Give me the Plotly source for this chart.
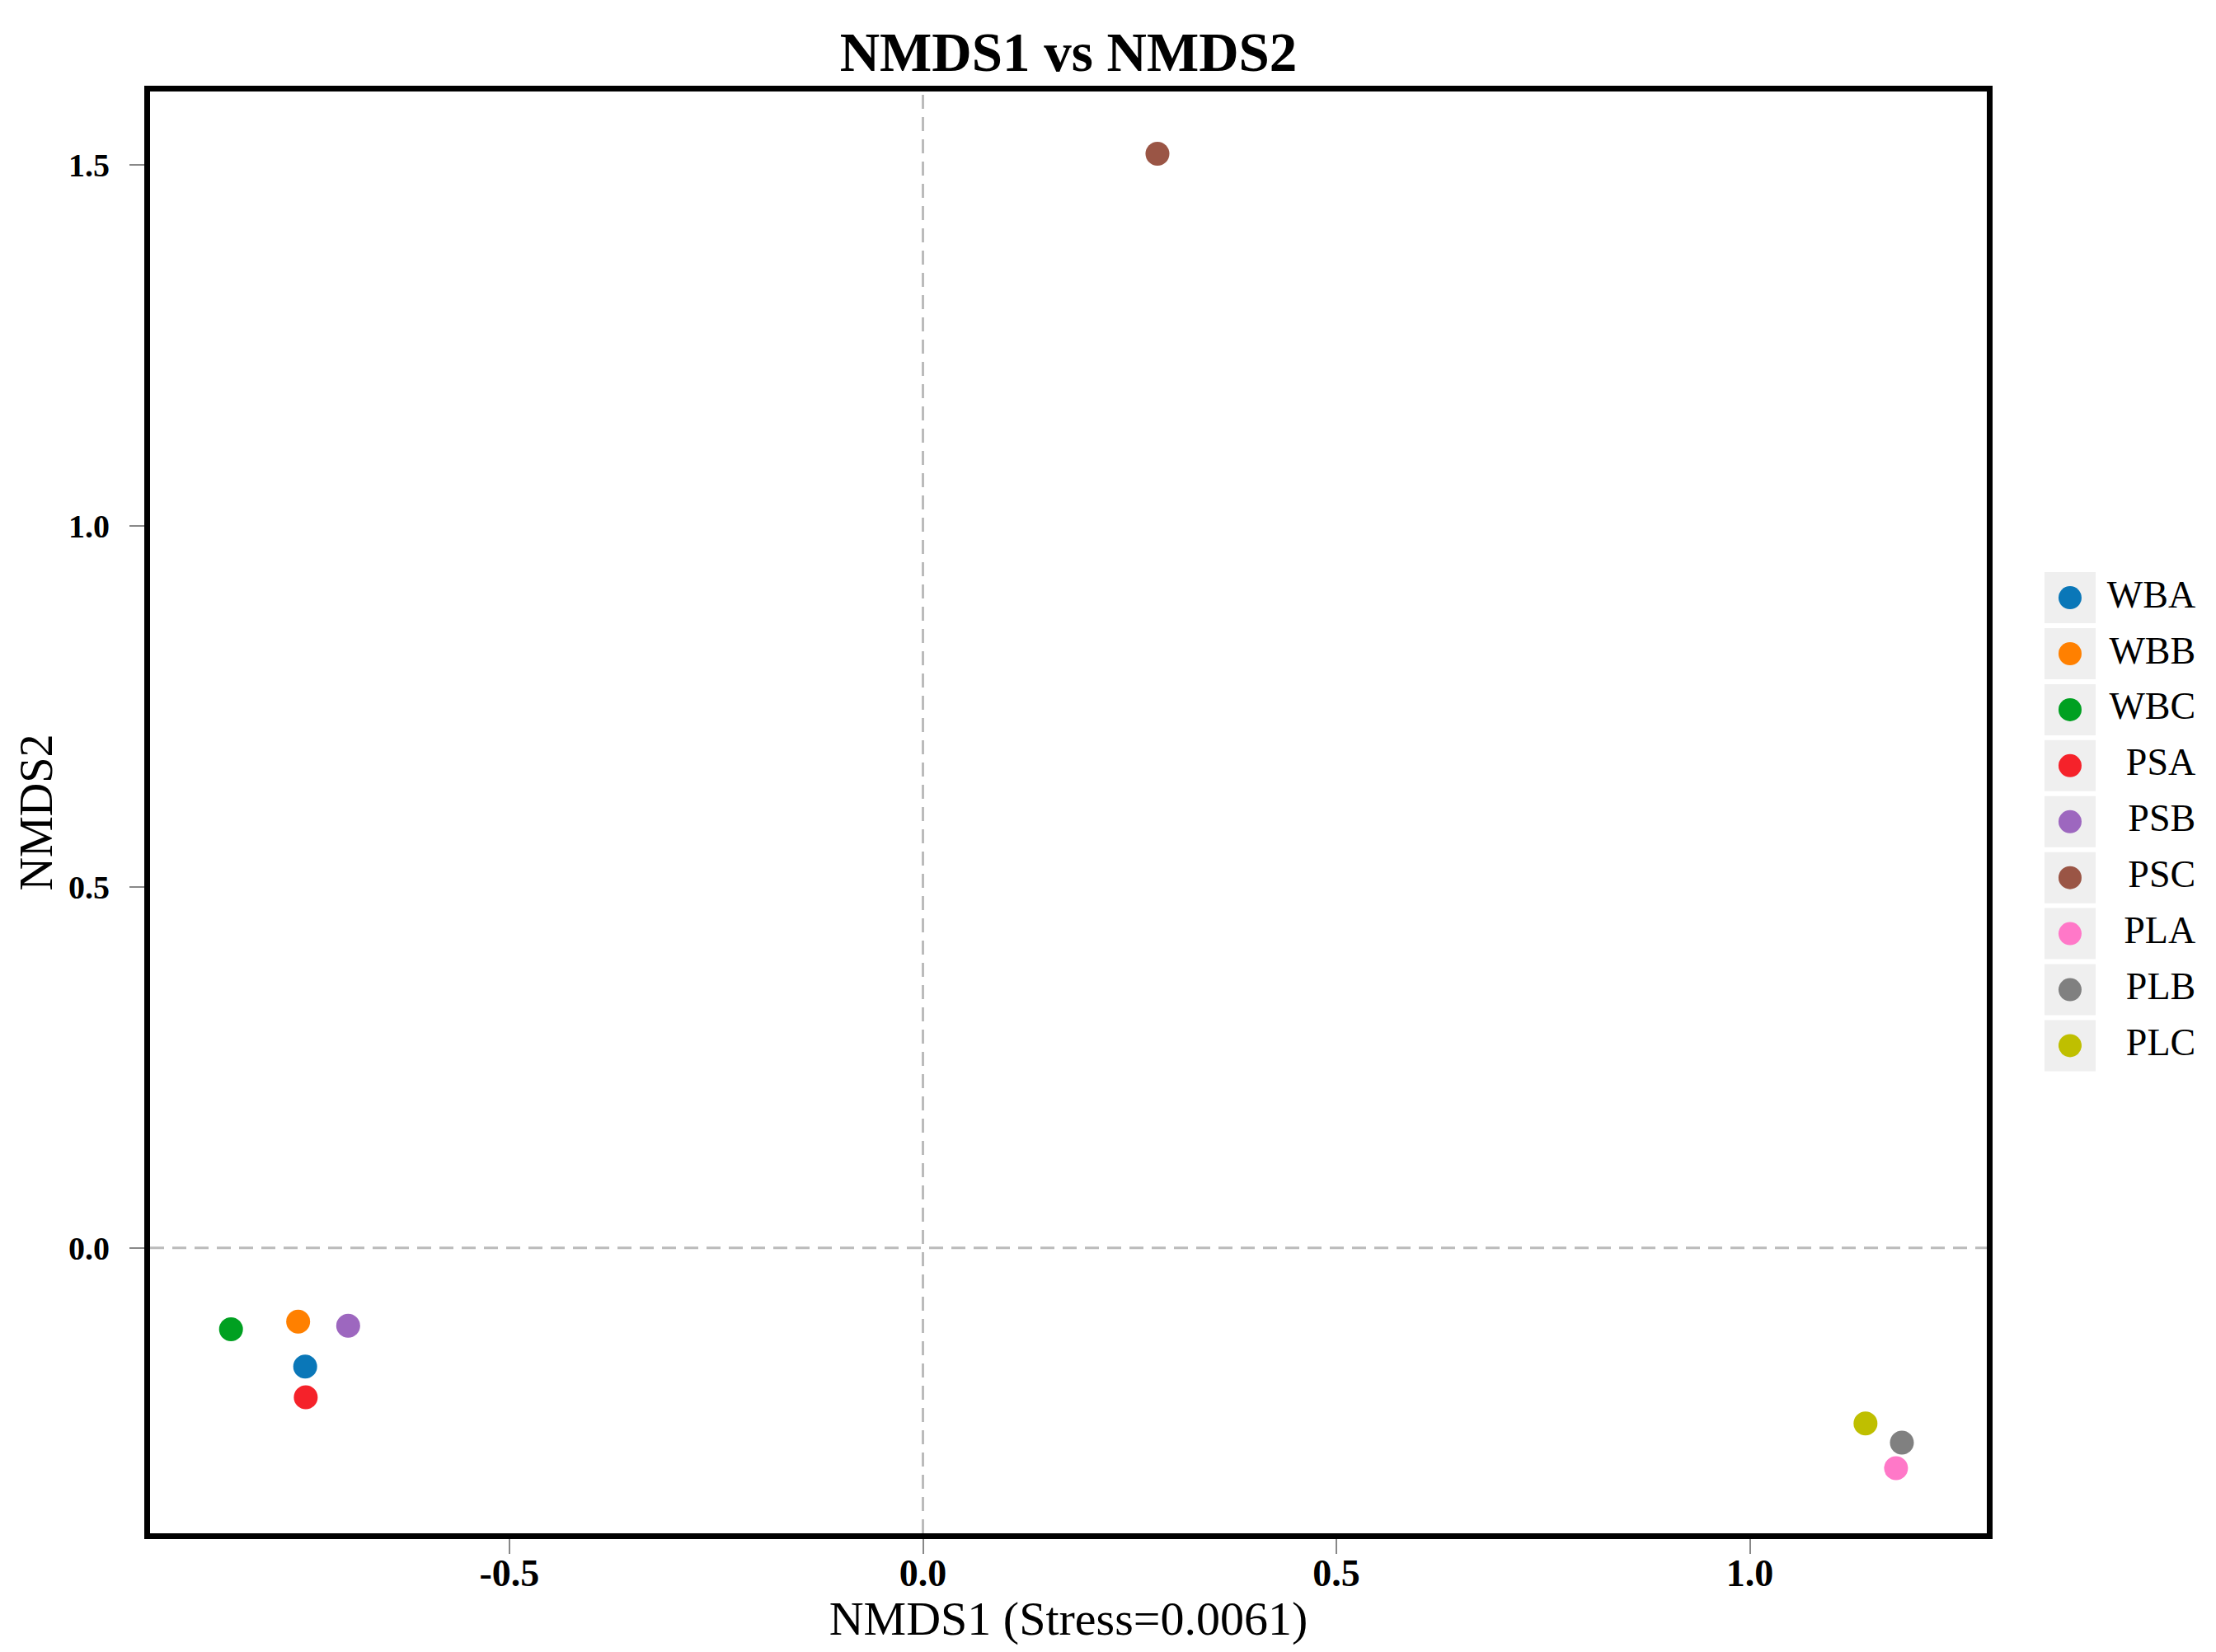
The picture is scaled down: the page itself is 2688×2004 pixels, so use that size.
import plotly.graph_objects as go

samples = ["WBA", "WBB", "WBC", "PSA", "PSB", "PSC", "PLA", "PLB", "PLC"]
nmds1 = [-0.747, -0.7555, -0.8367, -0.7463, -0.695, 0.2836, 1.1767, 1.1838, 1.1398]
nmds2 = [-0.1645, -0.1024, -0.113, -0.2071, -0.1081, 1.5156, -0.3053, -0.2698, -0.2432]
colors = ["#0A77B8", "#FF8000", "#00A021", "#F5222A", "#9D67BF", "#9A5545", "#FF78C8", "#808080", "#BFBF00"]

x_ticks = [-0.5, 0.0, 0.5, 1.0]
y_ticks = [0.0, 0.5, 1.0, 1.5]

SERIF = "Liberation Serif"

# the page body has an 8px margin, so the figure is drawn 8px in from the window edge
OFF = 8
W, H = 2688 - 2 * OFF, 2004 - 2 * OFF
ML, MR, MT = 182 - OFF, 0, 111 - OFF
MB = H - (1860 - OFF)
plot_w = W - ML - MR
main_right = (2410 - OFF - ML) / plot_w

X_RANGE = [-0.9346, 1.2865]
Y_RANGE = [-0.3955, 1.6017]

fig = go.Figure()

# dashed reference lines at 0
fig.add_shape(type="line", xref="x", yref="y", x0=0, x1=0, y0=Y_RANGE[0], y1=Y_RANGE[1],
              line=dict(color="#BBBBBB", width=3, dash="17px,10px"), layer="below")
fig.add_shape(type="line", xref="x", yref="y", x0=X_RANGE[0], x1=X_RANGE[1], y0=0, y1=0,
              line=dict(color="#BBBBBB", width=3, dash="17px,10px"), layer="below")

for s, xv, yv, c in zip(samples, nmds1, nmds2, colors):
    fig.add_trace(go.Scatter(x=[xv], y=[yv], mode="markers", name=s,
                             marker=dict(size=29, color=c, line=dict(width=0)),
                             showlegend=False, xaxis="x", yaxis="y"))

# custom legend drawn on its own axes
fig.add_trace(go.Scatter(x=[0.195] * len(samples), y=samples, mode="markers",
                         marker=dict(symbol="square", size=62, color="#EFEFEF", line=dict(width=0)),
                         showlegend=False, hoverinfo="skip", xaxis="x2", yaxis="y2"))
fig.add_trace(go.Scatter(x=[0.195] * len(samples), y=samples, mode="markers",
                         marker=dict(size=28, color=colors, line=dict(width=0)),
                         showlegend=False, hoverinfo="skip", xaxis="x2", yaxis="y2"))
fig.add_trace(go.Scatter(x=[0.92] * len(samples), y=samples, mode="text", text=samples,
                         textposition="middle left",
                         textfont=dict(family=SERIF, size=46, color="black"),
                         showlegend=False, hoverinfo="skip", xaxis="x2", yaxis="y2"))

axis_common = dict(showgrid=False, zeroline=False, showline=True, linecolor="black",
                   linewidth=7, mirror=True, ticks="outside", ticklen=18, tickwidth=2,
                   tickcolor="#888888")

fig.update_layout(
    width=W, height=H,
    margin=dict(l=ML, r=MR, t=MT, b=MB, autoexpand=False),
    paper_bgcolor="white", plot_bgcolor="white",
    title=dict(text="NMDS1 vs NMDS2", x=main_right / 2, xref="paper", xanchor="center",
               y=1 - (63 - OFF) / H, yref="container", yanchor="middle",
               font=dict(family=SERIF, size=67, color="black", weight="bold")),
    xaxis=dict(domain=[0, main_right], range=X_RANGE, tickvals=x_ticks,
               ticktext=["-0.5", "0.0", "0.5", "1.0"],
               tickfont=dict(family=SERIF, size=46, color="black", weight="bold"),
               ticklabelstandoff=-16,
               title=dict(text="NMDS1 (Stress=0.0061)", standoff=16,
                          font=dict(family=SERIF, size=58, color="black")),
               **axis_common),
    yaxis=dict(domain=[0, 1], range=Y_RANGE, tickvals=y_ticks,
               ticktext=["0.0", "0.5", "1.0", "1.5"],
               tickfont=dict(family=SERIF, size=40, color="black", weight="bold"),
               ticklabelstandoff=16,
               title=dict(text="NMDS2", standoff=4,
                          font=dict(family=SERIF, size=56, color="black")),
               **axis_common),
    xaxis2=dict(domain=[(2470 - OFF - ML) / plot_w, (2680 - OFF - ML) / plot_w], range=[0, 1],
                visible=False, anchor="y2"),
    yaxis2=dict(domain=[0.3188, 0.6683], range=[len(samples) - 0.5, -0.5],
                type="category", categoryorder="array", categoryarray=samples,
                visible=False, anchor="x2"),
    showlegend=False,
)

fig.write_html("out.html")
